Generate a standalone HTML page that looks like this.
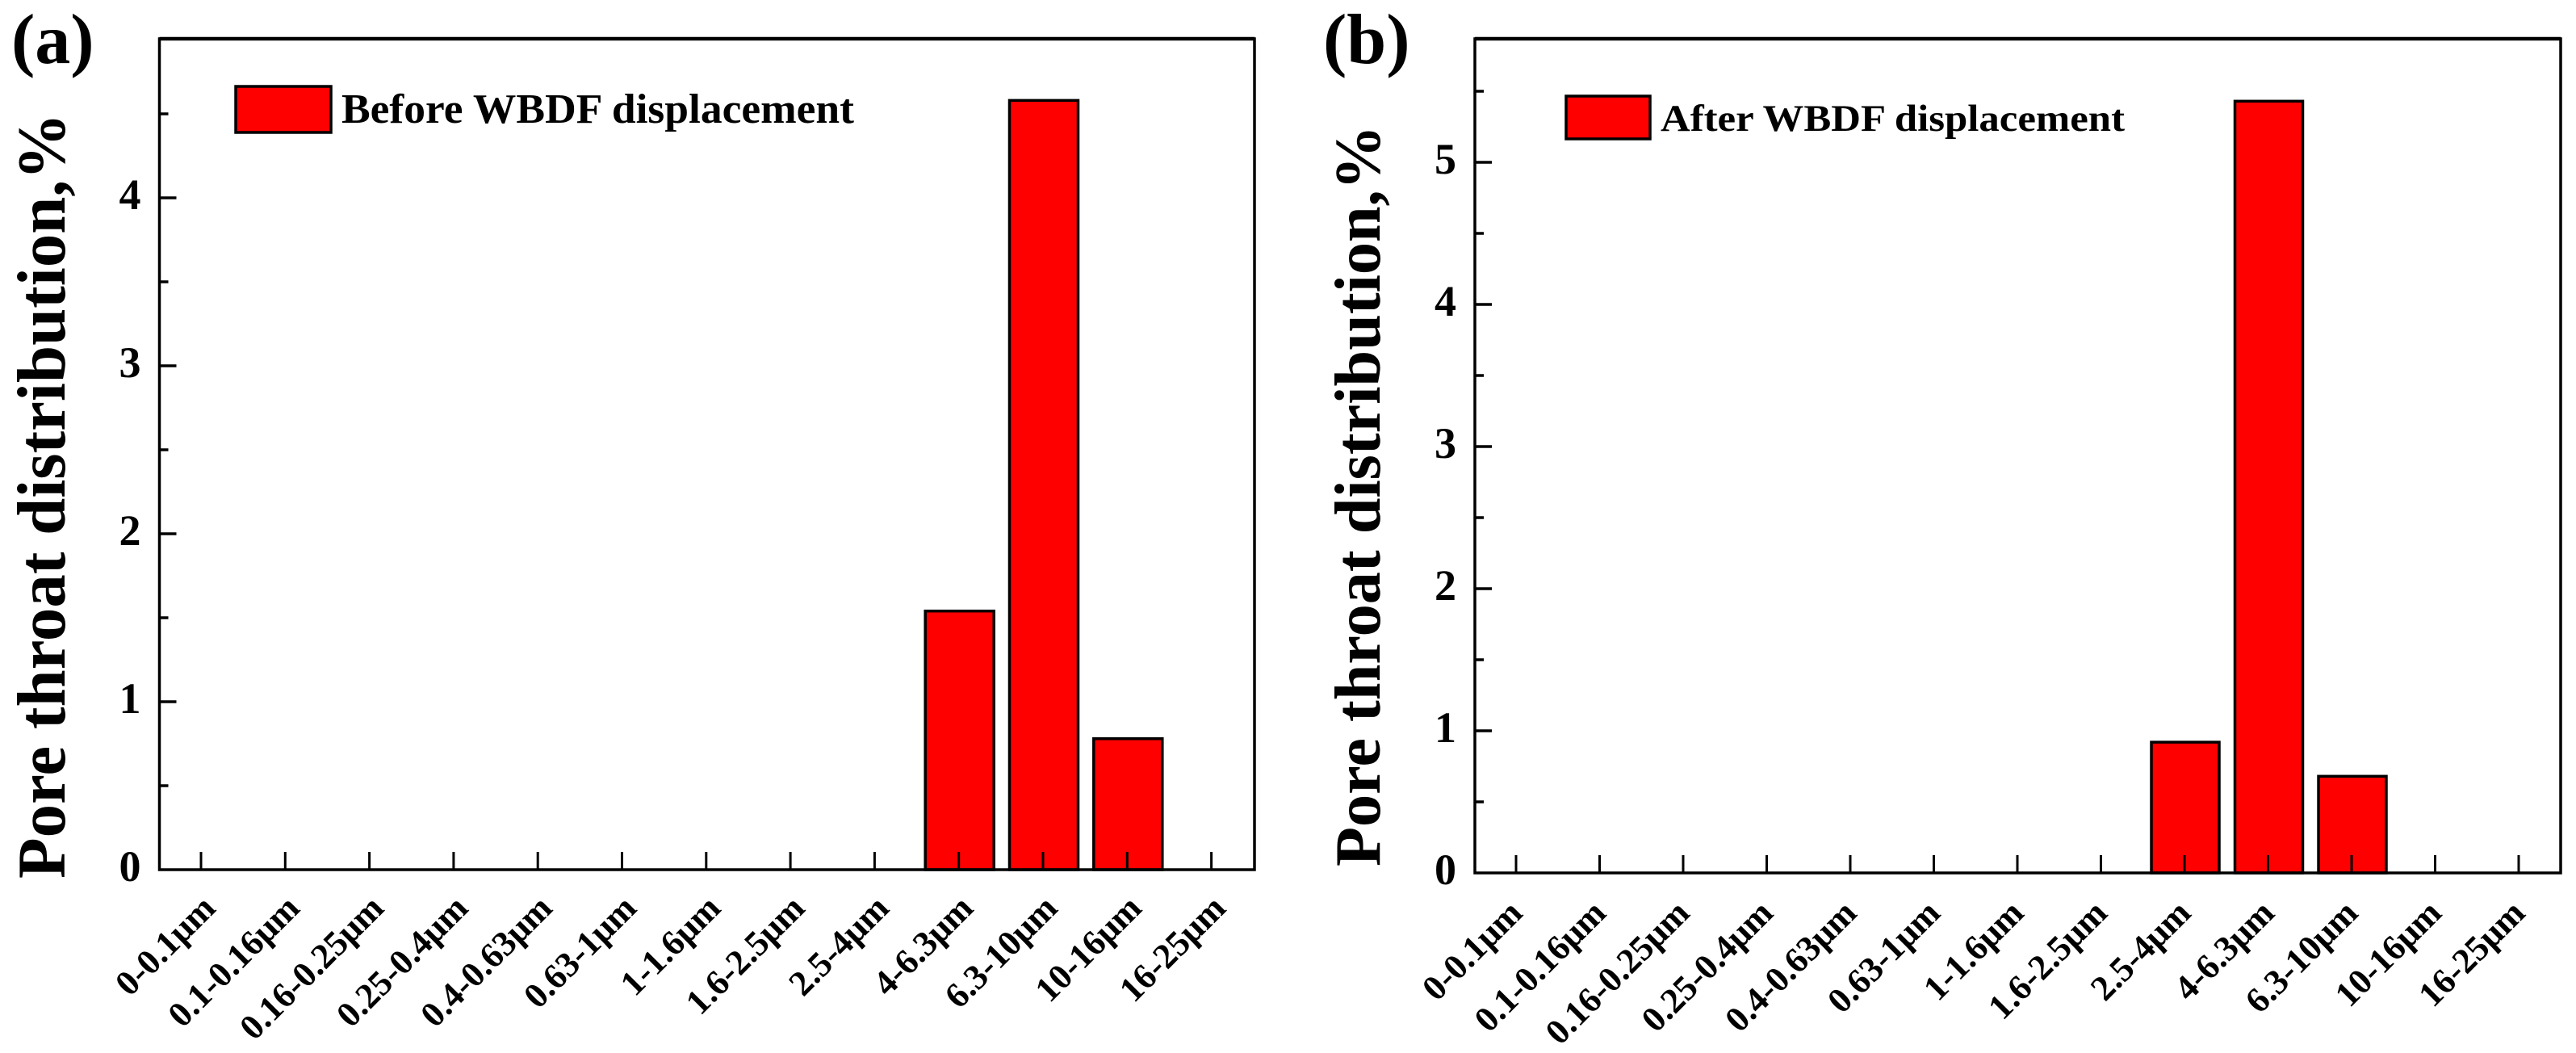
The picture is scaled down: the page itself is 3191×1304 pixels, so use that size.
<!DOCTYPE html>
<html lang="en">
<head>
<meta charset="utf-8">
<title>Pore throat distribution before and after WBDF displacement</title>
<style>
html,body{margin:0;padding:0;background:#fff;width:3191px;height:1304px;overflow:hidden}
svg{display:block;font-family:"Liberation Serif",serif;font-weight:bold;fill:#000}
</style>
</head>
<body>
<svg id="figure" xmlns="http://www.w3.org/2000/svg" width="3191" height="1304" viewBox="0 0 3191 1304"></svg>
<script>
const categoriesA = ["0-0.1μm","0.1-0.16μm","0.16-0.25μm","0.25-0.4μm","0.4-0.63μm","0.63-1μm","1-1.6μm","1.6-2.5μm","2.5-4μm","4-6.3μm","6.3-10μm","10-16μm","16-25μm"];
const valuesA = [0,0,0,0,0,0,0,0,0,1.54,4.58,0.78,0];
const yTicksA = [0,1,2,3,4];
const yMinorTicksA = [0.5,1.5,2.5,3.5,4.5];
const categoriesB = ["0-0.1μm","0.1-0.16μm","0.16-0.25μm","0.25-0.4μm","0.4-0.63μm","0.63-1μm","1-1.6μm","1.6-2.5μm","2.5-4μm","4-6.3μm","6.3-10μm","10-16μm","16-25μm"];
const valuesB = [0,0,0,0,0,0,0,0,0.92,5.43,0.68,0,0];
const yTicksB = [0,1,2,3,4,5];
const yMinorTicksB = [0.5,1.5,2.5,3.5,4.5,5.5];

const svg = document.getElementById('figure');
const NS = 'http://www.w3.org/2000/svg';
function mk(tag, attrs, parent, text) {
  const n = document.createElementNS(NS, tag);
  for (const k in attrs) n.setAttribute(k, attrs[k]);
  if (text !== undefined) n.textContent = text;
  parent.appendChild(n);
  return n;
}

function drawPanel(p) {
  const xPos = i => p.firstTick + i * p.step;
  const yPos = v => p.bottom - v * p.unit;
  const g = mk('g', {}, svg);
  
  

  // bars
  p.values.forEach((v, i) => {
    const top = yPos(v);
    const bar = mk('rect', {x: xPos(i) + 1 - p.barW / 2, y: top, width: p.barW, height: p.bottom - top, fill: '#ff0000', stroke: '#000', 'stroke-width': 3.5}, g);
    
    
  });

  // frame
  const frame = mk('rect', {x: p.left, y: p.top, width: p.right - p.left, height: p.bottom - p.top, fill: 'none', stroke: '#000', 'stroke-width': 3.5}, g);
  
  
  const topLine = mk('line', {x1: p.left, x2: p.right, y1: p.top, y2: p.top, stroke: '#000', 'stroke-width': 4.5}, g);
  
  

  // y ticks
  p.yTicks.forEach(v => {
    const y = yPos(v);
    if (v !== 0) {
      const t = mk('line', {x1: p.left, x2: p.left + 21, y1: y, y2: y, stroke: '#000', 'stroke-width': 3.5}, g);
      
      
    }
    const lab = mk('text', {x: p.left - 23, y: y + 14, 'text-anchor': 'end', 'font-size': p.tickFont}, g, String(v));
    
    
  });
  p.yMinor.forEach(v => {
    const y = yPos(v);
    const t = mk('line', {x1: p.left, x2: p.left + 11, y1: y, y2: y, stroke: '#000', 'stroke-width': 3.5}, g);
    
    
  });

  // x ticks and labels
  p.categories.forEach((c, i) => {
    const x = xPos(i);
    const t = mk('line', {x1: x, x2: x, y1: p.bottom, y2: p.bottom - 22, stroke: '#000', 'stroke-width': 3}, g);
    
    
    const lx = x + p.labelDx, ly = p.labelY;
    const lab = mk('text', {x: lx, y: ly, 'text-anchor': 'end', 'font-size': 44, transform: 'rotate(-45 ' + lx + ' ' + ly + ')'}, g, c);
    
    
  });

  // y title
  const title = mk('text', {x: p.titleX, y: p.titleY, 'font-size': p.titleFont, textLength: p.titleLen, lengthAdjust: 'spacingAndGlyphs', transform: 'rotate(-90 ' + p.titleX + ' ' + p.titleY + ')'}, g, 'Pore throat distribution,%');
  
  

  // legend
  const sw = mk('rect', {x: p.lg.x, y: p.lg.y, width: p.lg.w, height: p.lg.h, fill: '#ff0000', stroke: '#000', 'stroke-width': 3.5}, g);
  
  
  const lt = mk('text', {x: p.lg.tx, y: p.lg.ty, 'font-size': p.lg.font, textLength: p.lg.tl, lengthAdjust: 'spacingAndGlyphs'}, g, p.lg.text);
  
  

  // panel label
  const pl = mk('text', {x: p.tagX, y: 78, 'font-size': 88}, g, p.tag);
  
  
}

drawPanel({
  id: 'a', tag: '(a)', tagX: 14,
  categories: categoriesA, values: valuesA, yTicks: yTicksA, yMinor: yMinorTicksA,
  left: 197.5, right: 1554, top: 48, bottom: 1077,
  firstTick: 249, step: 104.3, unit: 208, barW: 85,
  labelDx: 20, labelY: 1127, tickFont: 54,
  titleX: 80, titleY: 1088, titleFont: 85, titleLen: 948,
  lg: {x: 292, y: 107, w: 118, h: 57, tx: 423, ty: 152, font: 52, tl: 635, text: 'Before WBDF displacement'}
});
drawPanel({
  id: 'b', tag: '(b)', tagX: 1639,
  categories: categoriesB, values: valuesB, yTicks: yTicksB, yMinor: yMinorTicksB,
  left: 1827, right: 3172, top: 48, bottom: 1081,
  firstTick: 1878, step: 103.5, unit: 176, barW: 84,
  labelDx: 10, labelY: 1133, tickFont: 54,
  titleX: 1709, titleY: 1073, titleFont: 80, titleLen: 918,
  lg: {x: 1940, y: 119, w: 104, h: 53, tx: 2057, ty: 162, font: 47, tl: 575, text: 'After WBDF displacement'}
});
</script>
</body>
</html>
